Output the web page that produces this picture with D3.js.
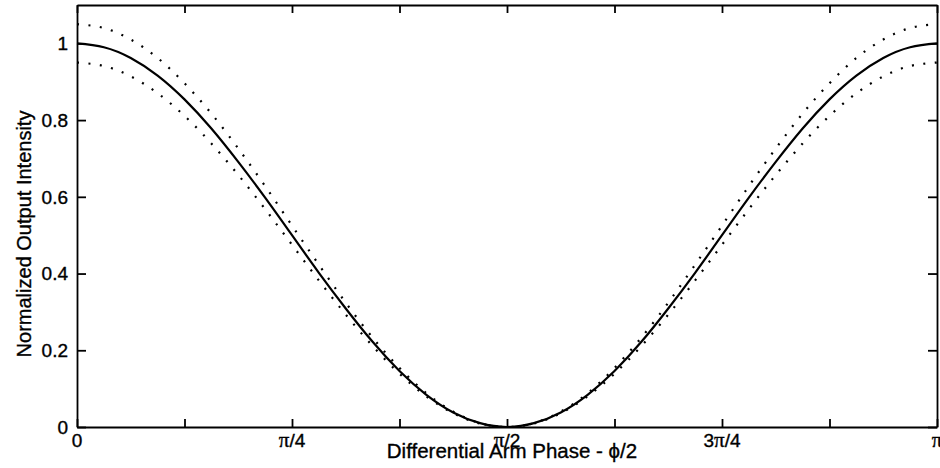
<!DOCTYPE html>
<html>
<head>
<meta charset="utf-8">
<title>Normalized Output Intensity</title>
<style>
  body { margin: 0; background: #fff; }
  svg { display: block; }
  text { font-family: 'Liberation Sans', Arial, sans-serif; fill: #000; stroke: #000; stroke-width: 0.35px; }
  .axis path, .axis line { stroke: #000; stroke-width: 1.8px; }
</style>
</head>
<body>
<div id="chart"></div>
<script src="https://d3js.org/d3.v7.min.js"></script>
<script>

// phase samples, in units of pi (0 .. 1, steps of 1/32)
var phase = [0, 0.03125, 0.0625, 0.09375, 0.125, 0.15625, 0.1875, 0.21875, 0.25,
             0.28125, 0.3125, 0.34375, 0.375, 0.40625, 0.4375, 0.46875, 0.5,
             0.53125, 0.5625, 0.59375, 0.625, 0.65625, 0.6875, 0.71875, 0.75,
             0.78125, 0.8125, 0.84375, 0.875, 0.90625, 0.9375, 0.96875, 1];

// solid curve
var intensity = [1.000, 0.990, 0.962, 0.916, 0.854, 0.778, 0.691, 0.598, 0.500,
                 0.402, 0.309, 0.222, 0.146, 0.084, 0.038, 0.010, 0.000,
                 0.010, 0.038, 0.084, 0.146, 0.222, 0.309, 0.402, 0.500,
                 0.598, 0.691, 0.778, 0.854, 0.916, 0.962, 0.990, 1.000];

// dotted bounds
var upper = [1.050, 1.040, 1.010, 0.962, 0.896, 0.817, 0.726, 0.628, 0.525,
             0.423, 0.324, 0.233, 0.154, 0.088, 0.040, 0.010, 0.000,
             0.010, 0.040, 0.088, 0.154, 0.233, 0.324, 0.423, 0.525,
             0.628, 0.726, 0.817, 0.896, 0.962, 1.010, 1.040, 1.050];
var lower = [0.950, 0.941, 0.914, 0.870, 0.811, 0.739, 0.657, 0.568, 0.475,
             0.382, 0.293, 0.211, 0.139, 0.080, 0.036, 0.009, 0.000,
             0.009, 0.036, 0.080, 0.139, 0.211, 0.293, 0.382, 0.475,
             0.568, 0.657, 0.739, 0.811, 0.870, 0.914, 0.941, 0.950];

var xTicks  = [0, 0.125, 0.25, 0.375, 0.5, 0.625, 0.75, 0.875, 1];
var xLabels = ["0", "", "π/4", "", "π/2", "", "3π/4", "", "π"];
var yTicks  = [0, 0.2, 0.4, 0.6, 0.8, 1];

var margin = {top: 5, right: 3, bottom: 41, left: 77},
    W = 940, H = 468,
    width  = W - margin.left - margin.right,
    height = H - margin.top - margin.bottom;

var svg = d3.select("#chart").append("svg")
    .attr("width", W)
    .attr("height", H);

var g = svg.append("g")
    .attr("transform", "translate(" + margin.left + "," + margin.top + ")");

var x = d3.scaleLinear().domain([0, 1]).range([0, width]);
var y = d3.scaleLinear().domain([0, 1.1]).range([height, 0]);

// axes, ticks pointing inwards (matlab style)
g.append("g").attr("class", "axis")
    .attr("transform", "translate(0," + height + ")")
    .call(d3.axisBottom(x).tickValues(xTicks).tickSize(-8).tickSizeOuter(0).tickFormat(""));
g.append("g").attr("class", "axis")
    .call(d3.axisTop(x).tickValues(xTicks).tickSize(-8).tickSizeOuter(0).tickFormat(""));
g.append("g").attr("class", "axis")
    .call(d3.axisLeft(y).tickValues(yTicks).tickSize(-9).tickSizeOuter(0).tickFormat(""));
g.append("g").attr("class", "axis")
    .attr("transform", "translate(" + width + ",0)")
    .call(d3.axisRight(y).tickValues(yTicks).tickSize(-9).tickSizeOuter(0).tickFormat(""));

// y tick labels
g.selectAll(".ylab")
    .data(yTicks)
    .enter().append("text")
    .attr("class", "ylab")
    .attr("x", -9)
    .attr("y", function(d){ return y(d); })
    .attr("dy", "0.36em")
    .attr("text-anchor", "end")
    .style("font-size", "19px")
    .text(function(d){ return d === 0 || d === 1 ? String(d) : d3.format(".1f")(d); });

// x tick labels, pi in serif
var xl = g.selectAll(".xlab")
    .data(xTicks.map(function(d, i){ return {v: d, t: xLabels[i]}; }).filter(function(d){ return d.t; }))
    .enter().append("text")
    .attr("class", "xlab")
    .attr("x", function(d){ return x(d.v); })
    .attr("y", height + 20)
    .attr("text-anchor", "middle")
    .style("font-size", "19px");
xl.each(function(d){
    var t = d3.select(this);
    d.t.split(/(π)/).forEach(function(s){
        if (!s) return;
        var sp = t.append("tspan").text(s);
        if (s === "π") sp.style("font-family", "'Liberation Serif', 'Times New Roman', serif").style("font-size", "21px");
    });
});

// curves
var pts = function(vals){ return phase.map(function(p, i){ return [p, vals[i]]; }); };
var line = d3.line()
    .x(function(d){ return x(d[0]); })
    .y(function(d){ return y(d[1]); })
    .curve(d3.curveNatural);

[upper, lower].forEach(function(vals){
    g.append("path")
        .attr("d", line(pts(vals)))
        .attr("fill", "none")
        .attr("stroke", "#000")
        .attr("stroke-width", 2.2)
        .attr("stroke-dasharray", "2 9.5");
});

g.append("path")
    .attr("d", line(pts(intensity)))
    .attr("fill", "none")
    .attr("stroke", "#000")
    .attr("stroke-width", 2.2);

// axis titles
svg.append("text")
    .attr("x", 512)
    .attr("y", 458)
    .attr("text-anchor", "middle")
    .style("font-size", "20.5px")
    .text("Differential Arm Phase - \u03D5/2");

svg.append("text")
    .attr("transform", "translate(31,234) rotate(-90)")
    .attr("text-anchor", "middle")
    .style("font-size", "20px")
    .text("Normalized Output Intensity");

</script>
</body>
</html>
